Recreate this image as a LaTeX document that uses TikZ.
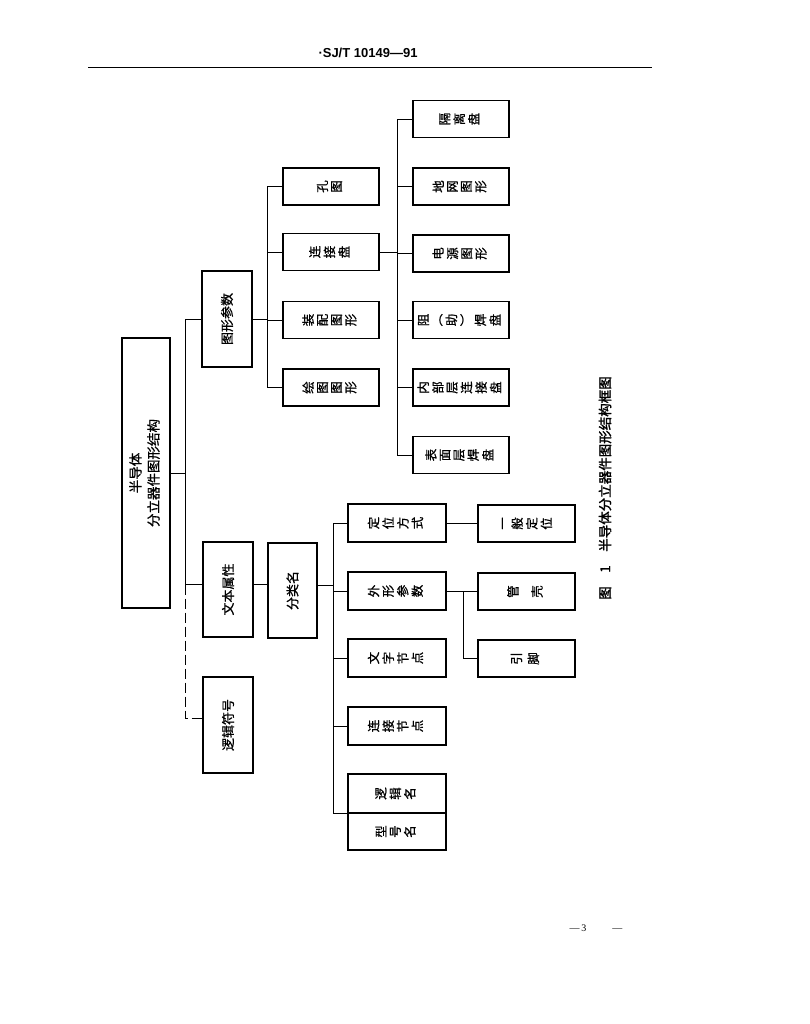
\documentclass[tikz,border=0pt]{standalone}
\usepackage{fontspec}
\usepackage{graphicx}
\setmainfont{Liberation Serif}
\newfontfamily\cjk{Noto Sans CJK SC}[FakeBold=0.8]
\newfontfamily\cjkb{Noto Sans CJK SC}[FakeBold=1.6]
\newfontfamily\hdrfont{Liberation Sans}
\newcommand\stk[1]{\rotatebox{90}{\begin{tabular}{@{}c@{}}#1\end{tabular}}}
\newcommand\hz[1]{\rotatebox{90}{#1}}
\begin{document}
\begin{tikzpicture}[x=1pt,y=-1pt,
  bx/.style={draw, line width=1.3pt, inner sep=0pt, font=\cjk\fontsize{12.5}{13.6}\selectfont},
  wbox/.style={bx, minimum width=50pt, minimum height=96pt, font=\cjk\fontsize{13}{14}\selectfont},
  nbox/.style={bx, minimum width=96pt, minimum height=37pt},
  ln/.style={line width=0.8pt},
  dln/.style={line width=0.8pt, dash pattern=on 10pt off 4pt}]
\useasboundingbox (0,0) rectangle (809,1024);
\fill[white] (0,0) rectangle (809,1024);

% header
\node[font=\hdrfont\bfseries\fontsize{13}{15}\selectfont] (hdr) at (368,53) {·SJ/T 10149—91};
\draw[line width=1pt] (88,68) -- (652,68);

% root and level 1
\node[bx, minimum width=48pt, minimum height=270pt, font=\cjk\fontsize{13.5}{18}\selectfont] (R) at (146,473)
  {\rotatebox{90}{\begin{tabular}{@{}c@{}}半导体\\分立器件图形结构\end{tabular}}};
\node[wbox] (T) at (227,319) {\hz{图形参数}};
\node[wbox, minimum height=95pt] (W) at (228,589.5) {\hz{文本属性}};
\node[wbox] (L) at (228,725) {\hz{逻辑符号}};
\node[wbox, minimum width=49pt, minimum height=95pt] (C) at (292.5,590.5) {\hz{分类名}};

% group 1
\node[nbox] (A1) at (331,186.5) {\stk{孔\\图}};
\node[nbox] (A2) at (331,252) {\stk{连\\接\\盘}};
\node[nbox] (A3) at (331,320) {\stk{装\\配\\图\\形}};
\node[nbox] (A4) at (331,387.5) {\stk{绘\\图\\图\\形}};

% group 2
\node[nbox] (B1) at (461,119) {\stk{隔\\离\\盘}};
\node[nbox] (B2) at (461,186.5) {\stk{地\\网\\图\\形}};
\node[nbox] (B3) at (461,253.5) {\stk{电\\源\\图\\形}};
\node[nbox] (B4) at (461,320) {\stk{阻\\︵\\助\\︶\\焊\\盘}};
\node[nbox] (B5) at (461,387.5) {\stk{内\\部\\层\\连\\接\\盘}};
\node[nbox] (B6) at (461,455) {\stk{表\\面\\层\\焊\\盘}};

% group 3
\node[nbox, minimum width=98pt, minimum height=38pt] (D1) at (397,523) {\stk{定\\位\\方\\式}};
\node[nbox, minimum width=98pt, minimum height=38pt] (D2) at (397,591) {\stk{外\\形\\参\\数}};
\node[nbox, minimum width=98pt, minimum height=38pt] (D3) at (397,658) {\stk{文\\字\\节\\点}};
\node[nbox, minimum width=98pt, minimum height=38pt] (D4) at (397,726) {\stk{连\\接\\节\\点}};
\node[nbox, minimum width=98pt, minimum height=39pt] (D5) at (397,793.5) {\stk{逻\\辑\\名}};
\node[nbox, minimum width=98pt, minimum height=37pt] (D6) at (397,831.5) {\stk{型\\号\\名}};

\node[nbox, minimum width=97pt] (E1) at (526.5,523.5) {\stk{一\\般\\定\\位}};
\node[nbox, minimum width=97pt] (E2) at (526.5,591.5) {\stk{管\\[9.5pt]壳}};
\node[nbox, minimum width=97pt] (E3) at (526.5,658.5) {\stk{引\\[2.5pt]脚}};

% trunk coordinates
\coordinate (t0) at (185,0);
\coordinate (t1) at (267,0);
\coordinate (t2) at (397,0);
\coordinate (t3) at (333,0);
\coordinate (t4) at (463,0);

% root connections
\draw[ln] (R.east) -- (R.east -| t0);
\draw[ln] (T.west) -- (T.west -| t0) -- ([yshift=5pt]W.west -| t0) -- ([yshift=5pt]W.west);
\draw[dln] ([yshift=5pt]W.west -| t0) -- ([yshift=7pt]L.west -| t0) -- ([yshift=7pt]L.west);

% group 1
\draw[ln] (T.east) -- (T.east -| t1);
\draw[ln] (A1.west) -- (A1.west -| t1) -- (A4.west -| t1) -- (A4.west);
\draw[ln] (A2.west) -- (A2.west -| t1);
\draw[ln] (A3.west) -- (A3.west -| t1);

% group 2
\draw[ln] (A2.east) -- (A2.east -| t2);
\draw[ln] (B1.west) -- (B1.west -| t2) -- (B6.west -| t2) -- (B6.west);
\draw[ln] (B2.west) -- (B2.west -| t2);
\draw[ln] (B3.west) -- (B3.west -| t2);
\draw[ln] (B4.west) -- (B4.west -| t2);
\draw[ln] (B5.west) -- (B5.west -| t2);

% group 3
\draw[ln] ([yshift=5pt]W.east) -- ([yshift=5pt]W.east -| C.west);
\draw[ln] ([yshift=5pt]C.east) -- ([yshift=5pt]C.east -| t3);
\draw[ln] (D1.west) -- (D1.west -| t3) -- (D5.south west -| t3) -- (D5.south west);
\draw[ln] (D2.west) -- (D2.west -| t3);
\draw[ln] (D3.west) -- (D3.west -| t3);
\draw[ln] (D4.west) -- (D4.west -| t3);

\draw[ln] (D1.east) -- (D1.east -| E1.west);
\draw[ln] (D2.east) -- (D2.east -| E2.west);
\draw[ln] (D2.east -| t4) -- (E3.west -| t4) -- (E3.west);

% caption
\node[font=\cjkb\fontsize{13.5}{15}\selectfont] (cap) at (605,488) {\hz{图\quad 1\quad 半导体分立器件图形结构框图}};

% page number
\node[font=\fontsize{10}{12}\selectfont] (pg) at (596,928) {—\,3\hspace{26pt}—};
\end{tikzpicture}
\end{document}
